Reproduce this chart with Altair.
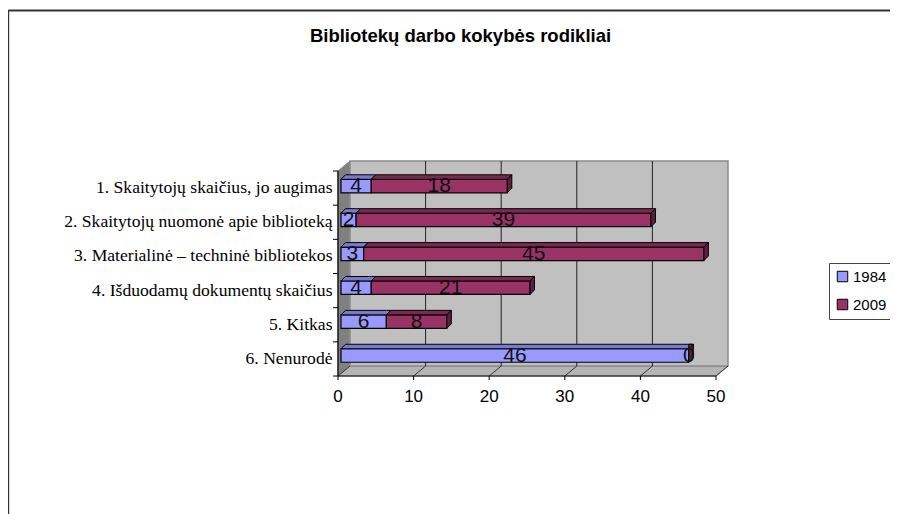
import altair as alt
import pandas as pd

TITLE = "Bibliotekų darbo kokybės rodikliai"
categories = [
    "1. Skaitytojų skaičius, jo augimas",
    "2. Skaitytojų nuomonė apie biblioteką",
    "3. Materialinė – techninė bibliotekos",
    "4. Išduodamų dokumentų skaičius",
    "5. Kitkas ",
    "6. Nenurodė",
]
series_names = ["1984", "2009"]
values_1984 = [4, 2, 3, 4, 6, 46]
values_2009 = [18, 39, 45, 21, 8, 0]
x_ticks = [0, 10, 20, 30, 40, 50]
grid_ticks = [10, 20, 30, 40]

# Scale calibration
PX_X, PX_Y = 7.56, 34.17
X0_PAGE, Y0_PAGE = 338, 171
W, H = 882, 506
xdom = [(8 - X0_PAGE) / PX_X, (8 + W - X0_PAGE) / PX_X]
ydom = [(8 + H - Y0_PAGE) / PX_Y, (8 - Y0_PAGE) / PX_Y]
DX, DY = 12 / PX_X, 10 / PX_Y           # wall depth
BDX, BDY = 4.5 / PX_X, 4.5 / PX_Y       # bar depth
SHIFT = 3 / PX_X                        # bars' offset from the axis
BAR_H = 13.5 / PX_Y
ROW_STEP, ROW_START = 0.992, 0.44
N = 6
XMAX = 50

sx = alt.Scale(domain=xdom, nice=False, zero=False)
sy = alt.Scale(domain=ydom, nice=False, zero=False)
X = alt.X("x:Q", scale=sx, axis=None)
Y = alt.Y("y:Q", scale=sy, axis=None)


def area(rows, fill, stroke, sw=1.0):
    return alt.Chart(pd.DataFrame(rows)).mark_area(
        orient="vertical", fill=fill, stroke=stroke, strokeWidth=sw, opacity=1
    ).encode(x=X, y=Y, y2="y2:Q", detail="id:N")


def rules(rows, color, sw=1.0):
    return alt.Chart(pd.DataFrame(rows)).mark_rule(color=color, strokeWidth=sw).encode(
        x=X, x2="x2:Q", y=Y, y2="y2:Q"
    )


# Walls
wall = alt.Chart(pd.DataFrame([{"x": DX, "x2": DX + XMAX, "y": -DY, "y2": N - DY}])).mark_rect(
    fill="#c0c0c0", stroke="#8a8a8a", strokeWidth=1.5
).encode(x=X, x2="x2:Q", y=Y, y2="y2:Q")
left_wall = area(
    [{"id": "l", "x": 0, "y": 0, "y2": N}, {"id": "l", "x": DX, "y": -DY, "y2": N - DY}],
    "#808080", "#808080",
)
floor = area(
    [
        {"id": "f", "x": 0, "y": N, "y2": N},
        {"id": "f", "x": DX, "y": N - DY, "y2": N},
        {"id": "f", "x": XMAX, "y": N - DY, "y2": N},
        {"id": "f", "x": XMAX + DX, "y": N - DY, "y2": N - DY},
    ],
    "#b4b4b4", "#9a9a9a",
)
grid = rules([{"x": v + DX, "x2": v + DX, "y": -DY, "y2": N - DY} for v in grid_ticks], "#222222")
floor_ticks = alt.Chart(
    pd.DataFrame(
        [{"id": v, "x": v + d, "y": N - (d / DX) * DY} for v in x_ticks for d in (0, DX)]
    )
).mark_line(color="#333333", strokeWidth=1).encode(x=X, y=Y, detail="id:N")

# Bars
front, top, side, labels = [], [], [], []
for i in range(N):
    cy = ROW_START + i * ROW_STEP
    yt, yb = cy - BAR_H / 2, cy + BAR_H / 2
    start = 0
    for name, v in zip(series_names, (values_1984[i], values_2009[i])):
        a, b = start + SHIFT, start + v + SHIFT
        front.append({"series": name, "x": a, "x2": b, "y": yt, "y2": yb})
        for px, py, py2 in [(a, yt, yt), (a + BDX, yt - BDY, yt), (b, yt - BDY, yt), (b + BDX, yt - BDY, yt - BDY)]:
            top.append({"id": f"{name}-{i}", "series": name, "x": px, "y": py, "y2": py2})
        labels.append({"x": (a + b) / 2, "y": cy, "t": str(v)})
        start += v
    side.append({"id": i, "series": name, "x": b, "y": yt, "y2": yb})
    side.append({"id": i, "series": name, "x": b + BDX, "y": yt - BDY, "y2": yb - BDY})

top_df = pd.DataFrame(top)
tops = [
    area(top_df[top_df.series == "1984"].to_dict("records"), "#7a7acc", "#000000"),
    area(top_df[top_df.series == "2009"].to_dict("records"), "#7a2952", "#000000"),
]
sides = area(side, "#5c1f3d", "#000000")

fronts = alt.Chart(pd.DataFrame(front)).mark_rect(stroke="#000000", strokeWidth=1.2).encode(
    x=X,
    x2="x2:Q",
    y=Y,
    y2="y2:Q",
    color=alt.Color(
        "series:N",
        scale=alt.Scale(domain=series_names, range=["#9999ff", "#993366"]),
        legend=alt.Legend(
            orient="none",
            legendX=821,
            legendY=255,
            title=None,
            fillColor="#ffffff",
            strokeColor="#444444",
            symbolType="square",
            symbolSize=110,
            symbolStrokeColor="#000000",
            symbolStrokeWidth=1,
            symbolOpacity=1,
            labelFont="Liberation Sans",
            labelFontSize=15,
            labelColor="#000000",
            labelOffset=3,
            rowPadding=12,
            padding=6,
        ),
    ),
)

data_labels = alt.Chart(pd.DataFrame(labels)).mark_text(
    font="Liberation Sans", fontSize=21, color="#111111", align="center", baseline="middle"
).encode(x=X, y=Y, text="t:N")

# Axes
axis_lines = rules(
    [{"x": 0, "x2": XMAX, "y": N, "y2": N}, {"x": 0, "x2": 0, "y": 0, "y2": N}], "#000000", 1.2
)
tick_x = rules([{"x": v, "x2": v, "y": N, "y2": N + 4 / PX_Y} for v in x_ticks], "#000000")
tick_y = rules([{"x": -5 / PX_X, "x2": 0, "y": i, "y2": i} for i in range(N + 1)], "#000000")
x_labels = alt.Chart(pd.DataFrame([{"x": v, "y": N + 21 / PX_Y, "t": str(v)} for v in x_ticks])).mark_text(
    font="Liberation Sans", fontSize=17, color="#000000", align="center", baseline="middle"
).encode(x=X, y=Y, text="t:N")
cat_labels = alt.Chart(
    pd.DataFrame([{"x": -5.5 / PX_X, "y": i * 1.005 + 0.485, "t": c} for i, c in enumerate(categories)])
).mark_text(
    font="Liberation Serif", fontSize=17.6, color="#000000", align="right", baseline="middle"
).encode(x=X, y=Y, text="t:N")

# Outer frame, cropped by the page
PAGE_L = xdom[0] + 0.2 / PX_X
PAGE_T = (10.5 - Y0_PAGE) / PX_Y
frame = rules(
    [
        {"x": PAGE_L, "x2": xdom[1], "y": PAGE_T, "y2": PAGE_T},
        {"x": PAGE_L, "x2": PAGE_L, "y": PAGE_T, "y2": ydom[0]},
    ],
    "#333333",
    2,
)

chart = (
    alt.layer(
        frame, left_wall, floor, wall, grid, floor_ticks, fronts, *tops, sides,
        axis_lines, tick_x, tick_y, x_labels, cat_labels, data_labels,
    )
    .properties(
        width=W,
        height=H,
        padding=0,
        autosize=alt.AutoSizeParams(type="none"),
        title=alt.TitleParams(
            TITLE, font="Liberation Sans", fontSize=18.5, fontWeight="bold", color="#000000",
            anchor="middle", offset=-37, dx=11.5, orient="top",
        ),
    )
    .configure_view(stroke=None)
)
chart.save("out.html", embed_options={"renderer": "svg", "actions": False})
